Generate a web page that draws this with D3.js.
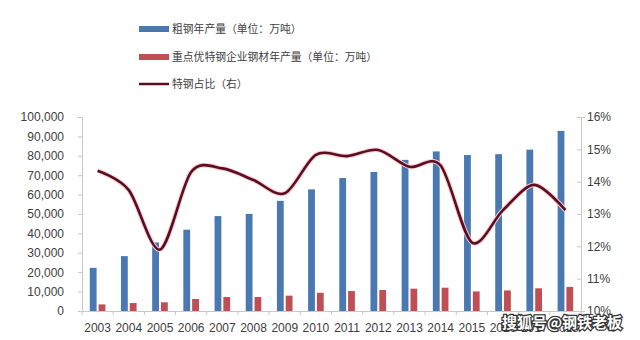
<!DOCTYPE html>
<html><head><meta charset="utf-8">
<script src="https://cdn.jsdelivr.net/npm/d3@7"></script>
<style>
html,body{margin:0;padding:0;background:#fff;}
svg{display:block;}
</style>
</head><body>
<svg id="c" width="640" height="340"></svg>
<script>
const years = ["2003","2004","2005","2006","2007","2008","2009","2010","2011","2012","2013","2014","2015","2016","2017","2018"];
const crudeSteel = [22234,28291,35324,41915,48929,50049,56784,62696,68528,71654,77904,82270,80383,80837,83173,92826];
const specialSteel = [3400,4100,4500,6200,7200,7200,7900,9400,10300,10800,11500,12000,10100,10600,11700,12400];
const specialShare = [14.34,13.74,11.9,14.3,14.41,14.05,13.64,14.83,14.79,14.98,14.46,14.5,12.12,13.12,13.9,13.12];
const leftTicks = [0,10000,20000,30000,40000,50000,60000,70000,80000,90000,100000];
const rightTicks = [10,11,12,13,14,15,16];
const legendLabels = ["粗钢年产量（单位：万吨）","重点优特钢企业钢材年产量（单位：万吨）","特钢占比（右）"];
const watermark = "搜狐号@钢铁老板";

const svg = d3.select("#c");
const L = 82, R = 581, T = 117, B = 311;
const font = "'Liberation Sans', Arial, sans-serif";
const cjk = "'Noto Sans CJK SC', sans-serif";

const x = d3.scaleBand().domain(years).range([L, R]).paddingInner(0).paddingOuter(0);
const yL = d3.scaleLinear().domain([0,100000]).range([B, T]);
const yR = d3.scaleLinear().domain([10,16]).range([B, T]);

// Axes
const axL = svg.append("g").attr("transform",`translate(${L},0)`)
  .call(d3.axisLeft(yL).tickValues(leftTicks).tickSize(4).tickPadding(14).tickFormat(d3.format(",")));
const axR = svg.append("g").attr("transform",`translate(${R},0)`)
  .call(d3.axisRight(yR).tickValues(rightTicks).tickSize(4).tickPadding(2).tickFormat(d => d + "%"));
const axB = svg.append("g").attr("transform",`translate(0,${B})`)
  .call(d3.axisBottom(x).tickSize(0).tickPadding(12));
[axL, axR, axB].forEach(g => {
  g.select(".domain").attr("stroke","#c8c8c8");
  g.selectAll(".tick line").attr("stroke","#c8c8c8");
  g.selectAll("text").attr("font-family",font).attr("font-size",12).attr("fill","#404040");
});
axR.selectAll(".tick line").attr("x2",-4);
// category boundary ticks
svg.append("g").selectAll("line").data(years.concat(["end"])).join("line")
  .attr("x1",(d,i)=> L + i*x.bandwidth()).attr("x2",(d,i)=> L + i*x.bandwidth())
  .attr("y1",B).attr("y2",B+4).attr("stroke","#c8c8c8");

// Bars
const bw = 6.8;
svg.append("g").selectAll("rect").data(crudeSteel).join("rect")
  .attr("x",(d,i)=> x(years[i]) + x.bandwidth()/2 - 1 - bw)
  .attr("width",bw)
  .attr("y",d=> yL(d)).attr("height",d=> B - yL(d))
  .attr("fill","#4a78b0");
svg.append("g").selectAll("rect").data(specialSteel).join("rect")
  .attr("x",(d,i)=> x(years[i]) + x.bandwidth()/2 + 1)
  .attr("width",bw)
  .attr("y",d=> yL(d)).attr("height",d=> B - yL(d))
  .attr("fill","#bf4f55");

// Line
const line = d3.line()
  .x((d,i)=> x(years[i]) + x.bandwidth()/2)
  .y(d=> yR(d))
  .curve(d3.curveCardinal.tension(0.1));
svg.append("path").datum(specialShare).attr("d",line)
  .attr("fill","none").attr("stroke","#f6cbd1").attr("stroke-width",4.6).attr("stroke-linejoin","round");
svg.append("path").datum(specialShare).attr("d",line)
  .attr("fill","none").attr("stroke","#5c0d1f").attr("stroke-width",2.6).attr("stroke-linejoin","round");

// Legend
const lg = svg.append("g");
const ly = [29, 57, 84];
lg.append("rect").attr("x",139).attr("y",ly[0]-3).attr("width",30).attr("height",6).attr("fill","#4a78b0");
lg.append("rect").attr("x",139).attr("y",ly[1]-3).attr("width",30).attr("height",6).attr("fill","#bf4f55");
lg.append("line").attr("x1",139).attr("x2",169).attr("y1",ly[2]).attr("y2",ly[2]).attr("stroke","#5c0d1f").attr("stroke-width",2.5);
lg.selectAll("text").data(legendLabels).join("text")
  .attr("x",172).attr("y",(d,i)=> ly[i]).attr("dy","0.36em")
  .attr("font-family",cjk).attr("font-size",10.8).attr("fill","#404040")
  .text(d=>d);

// Watermark
svg.append("text").attr("x",502).attr("y",323).attr("dy","0.36em")
  .attr("font-family",cjk).attr("font-size",15).attr("font-weight","bold")
  .attr("fill","#fff").attr("stroke","#333").attr("stroke-width",2.5).attr("paint-order","stroke")
  .text(watermark);
</script>
</body></html>
